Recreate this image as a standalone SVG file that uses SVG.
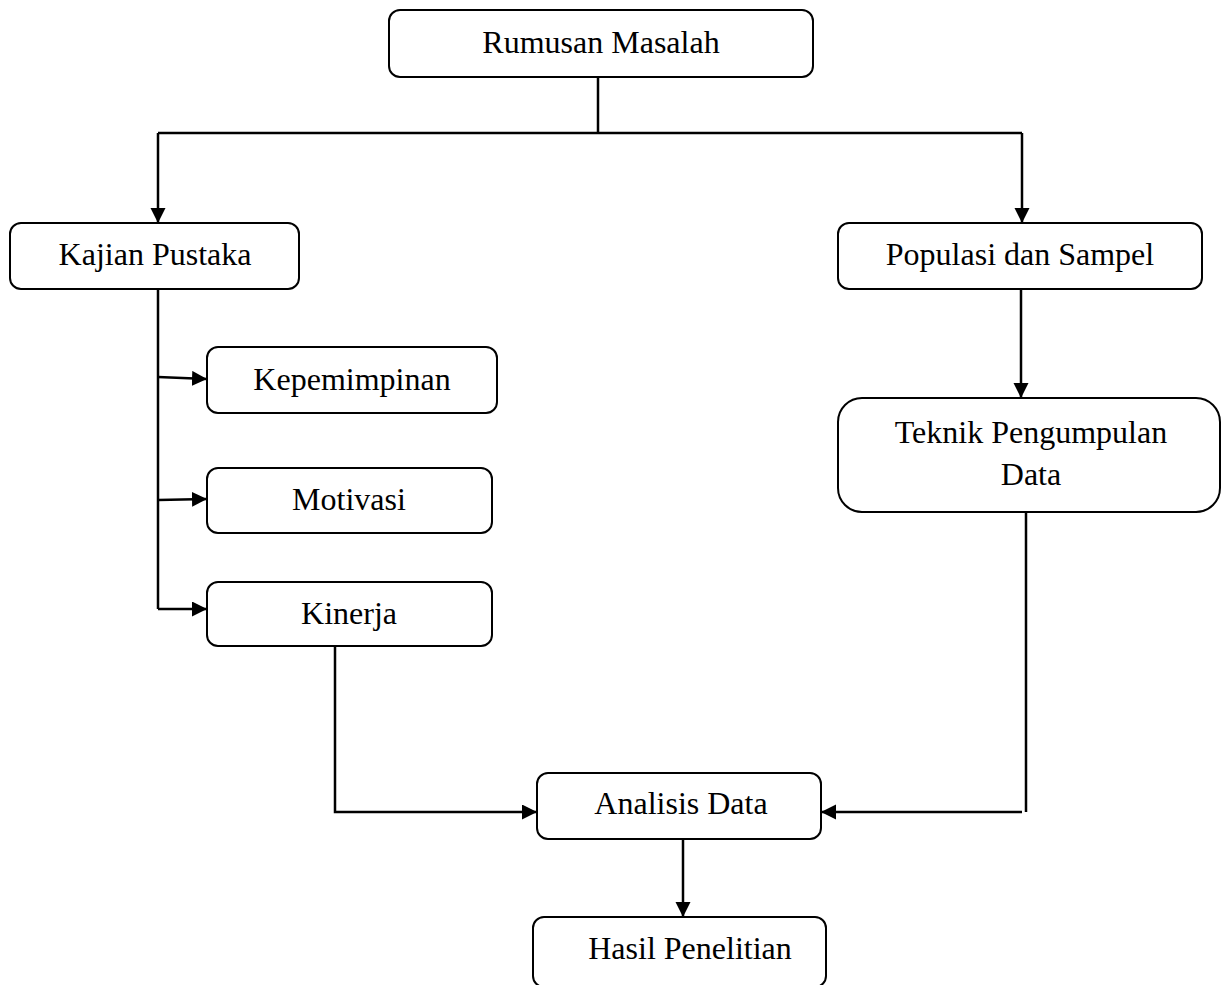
<svg xmlns="http://www.w3.org/2000/svg" width="1221" height="985" viewBox="0 0 1221 985">
<style>
.box{fill:#fff;stroke:#000;stroke-width:2}
.lbl{font-family:"Liberation Serif","Times New Roman",serif;font-size:32px;fill:#000;text-anchor:middle}
.ln{fill:none;stroke:#000;stroke-width:2.5}
.ar{fill:none;stroke:#000;stroke-width:2.5;marker-end:url(#ah)}
</style>
<defs>
<marker id="ah" markerUnits="userSpaceOnUse" markerWidth="18" markerHeight="18" refX="15" refY="7.5" orient="auto">
<path d="M0,0 L15,7.5 L0,15 z" fill="#000"/>
</marker>
</defs>
<rect width="1221" height="985" fill="#fff"/>
<g id="connectors">
<polyline class="ln" points="598,77 598,133"/>
<polyline class="ln" points="158,133 1022,133"/>
<polyline class="ar" points="158,133 158,223"/>
<polyline class="ar" points="1022,133 1022,223"/>
<polyline class="ln" points="158,289 158,609"/>
<polyline class="ar" points="158,377 207,379"/>
<polyline class="ar" points="158,500 207,499"/>
<polyline class="ar" points="158,609 207,609"/>
<polyline class="ar" points="1021,289 1021,398"/>
<polyline class="ar" points="335,646 335,812 537,812"/>
<polyline class="ln" points="1026,513 1026,812"/>
<polyline class="ar" points="1022,812 821,812"/>
<polyline class="ar" points="683,839 683,917"/>
</g>
<g id="rumusan"><rect class="box" x="389" y="10" width="424" height="67" rx="11"/><text class="lbl" x="601" y="53">Rumusan Masalah</text></g>
<g id="kajian"><rect class="box" x="10" y="223" width="289" height="66" rx="11"/><text class="lbl" x="155" y="265">Kajian Pustaka</text></g>
<g id="populasi"><rect class="box" x="838" y="223" width="364" height="66" rx="11"/><text class="lbl" x="1020" y="265">Populasi dan Sampel</text></g>
<g id="kepemimpinan"><rect class="box" x="207" y="347" width="290" height="66" rx="11"/><text class="lbl" x="352" y="390">Kepemimpinan</text></g>
<g id="motivasi"><rect class="box" x="207" y="468" width="285" height="65" rx="11"/><text class="lbl" x="349" y="510">Motivasi</text></g>
<g id="kinerja"><rect class="box" x="207" y="582" width="285" height="64" rx="11"/><text class="lbl" x="349" y="624">Kinerja</text></g>
<g id="teknik"><rect class="box" x="838" y="398" width="382" height="114" rx="24"/><text class="lbl" x="1031" y="443">Teknik Pengumpulan</text><text class="lbl" x="1031" y="485">Data</text></g>
<g id="analisis"><rect class="box" x="537" y="773" width="284" height="66" rx="11"/><text class="lbl" x="681" y="814">Analisis Data</text></g>
<g id="hasil"><rect class="box" x="533" y="917" width="293" height="70" rx="11"/><text class="lbl" x="690" y="959">Hasil Penelitian</text></g>
</svg>
